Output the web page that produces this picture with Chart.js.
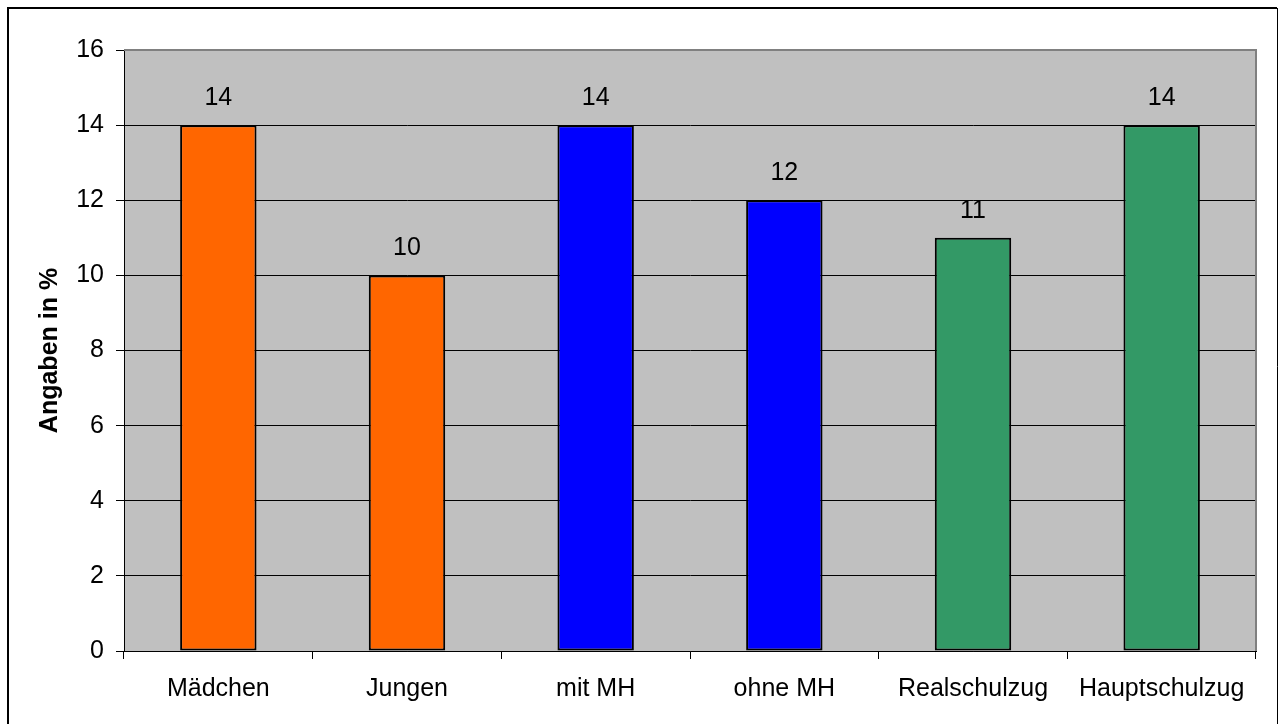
<!DOCTYPE html>
<html>
<head>
<meta charset="utf-8">
<script src="https://cdn.jsdelivr.net/npm/chart.js@4"></script>
<style>
  html, body { margin: 0; padding: 0; background: #fff; }
  #wrap { width: 1283px; height: 724px; }
</style>
</head>
<body>
<div id="wrap"><canvas id="chart" width="1283" height="724"></canvas></div>
<script>
const categories = ['Mädchen', 'Jungen', 'mit MH', 'ohne MH', 'Realschulzug', 'Hauptschulzug'];
const values = [14, 10, 14, 12, 11, 14];
const barColors = ['#FF6600', '#FF6600', '#0000FF', '#0000FF', '#339966', '#339966'];
const yTicks = [0, 2, 4, 6, 8, 10, 12, 14, 16];
const yTitle = 'Angaben in %';

const FONT = 'Arial, "Liberation Sans", sans-serif';

// grey plot background + outer frame + grey top/right border
const plotArea = {
    id: 'plotArea',
    beforeDraw(chart) {
        const { ctx, chartArea: a } = chart;
        ctx.save();
        ctx.fillStyle = '#C0C0C0';
        ctx.fillRect(a.left, a.top, a.right - a.left, a.bottom - a.top);
        ctx.restore();
    },
    afterDraw(chart) {
        const { ctx, chartArea: a } = chart;
        ctx.save();
        ctx.strokeStyle = '#808080';
        ctx.lineWidth = 2;
        ctx.beginPath();
        ctx.moveTo(a.left, a.top);
        ctx.lineTo(a.right, a.top);
        ctx.lineTo(a.right, a.bottom);
        ctx.stroke();
        // outer frame
        ctx.strokeStyle = '#000';
        ctx.lineWidth = 2;
        ctx.beginPath();
        ctx.moveTo(8, 730);
        ctx.lineTo(8, 8);
        ctx.lineTo(1277, 8);
        ctx.stroke();
        ctx.lineWidth = 1;
        ctx.beginPath();
        ctx.moveTo(1277.5, 8);
        ctx.lineTo(1277.5, 730);
        ctx.stroke();
        ctx.restore();
    }
};

// value labels above the bars
const valueLabels = {
    id: 'valueLabels',
    afterDatasetsDraw(chart) {
        const { ctx } = chart;
        const meta = chart.getDatasetMeta(0);
        ctx.save();
        ctx.font = '25px ' + FONT;
        ctx.fillStyle = '#000';
        ctx.textAlign = 'center';
        ctx.textBaseline = 'middle';
        meta.data.forEach((bar, i) => {
            ctx.fillText(String(values[i]), bar.x, bar.y - 27);
        });
        ctx.restore();
    }
};

new Chart(document.getElementById('chart'), {
    type: 'bar',
    data: {
        labels: categories,
        datasets: [{
            data: values,
            backgroundColor: barColors,
            borderColor: '#000',
            borderWidth: 2,
            borderSkipped: false,
            categoryPercentage: 1,
            barPercentage: 0.405
        }]
    },
    options: {
        responsive: false,
        animation: false,
        layout: { padding: { left: 0, top: 50, right: 27, bottom: 13 } },
        plugins: {
            legend: { display: false },
            tooltip: { enabled: false }
        },
        scales: {
            x: {
                offset: true,
                afterFit(scale) { scale.height = 60; },
                grid: {
                    offset: true,
                    drawOnChartArea: false,
                    drawTicks: true,
                    tickLength: 8,
                    color: '#000'
                },
                border: { color: '#000', width: 1 },
                ticks: { color: '#000', padding: 15, font: { family: FONT, size: 25 } }
            },
            y: {
                min: 0,
                max: 16,
                afterFit(scale) { scale.width = 124; },
                afterBuildTicks(scale) { scale.ticks = yTicks.map(v => ({ value: v })); },
                grid: { color: '#000', lineWidth: 1, tickLength: 8 },
                border: { color: '#000', width: 1 },
                ticks: { color: '#000', padding: 12, font: { family: FONT, size: 25 } },
                title: {
                    display: true,
                    text: yTitle,
                    color: '#000',
                    padding: { top: 35, bottom: 0 },
                    font: { family: FONT, size: 25, weight: 'bold' }
                }
            }
        }
    },
    plugins: [plotArea, valueLabels]
});
</script>
</body>
</html>
